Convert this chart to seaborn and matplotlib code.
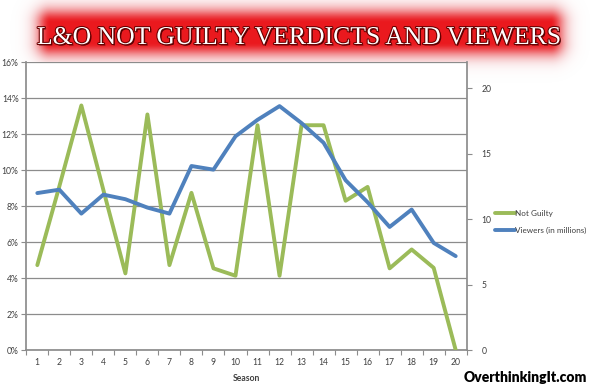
import numpy as np
import pandas as pd
import matplotlib
matplotlib.use("Agg")
import matplotlib.pyplot as plt
import matplotlib.patheffects as pe
import seaborn as sns
from matplotlib.ticker import FixedLocator, PercentFormatter

seasons = list(range(1, 21))
not_guilty = [4.72, 9.1, 13.6, 8.9, 4.26, 13.1, 4.72, 8.74, 4.54, 4.13,
              12.5, 4.13, 12.5, 12.5, 8.3, 9.07, 4.54, 5.59, 4.57, 0.0]
viewers = [12.0, 12.26, 10.43, 11.88, 11.53, 10.89, 10.43, 14.07, 13.79, 16.34,
           17.6, 18.65, 17.35, 15.85, 12.98, 11.3, 9.41, 10.74, 8.19, 7.18]
left_ticks = [0, 2, 4, 6, 8, 10, 12, 14, 16]
right_ticks = [0, 5, 10, 15, 20]
title = "L&O NOT GUILTY VERDICTS AND VIEWERS"

df = pd.DataFrame({"Season": seasons, "Not Guilty": not_guilty,
                   "Viewers (in millions)": viewers})

sns.set_theme(style="white")
plt.rcParams['font.family'] = ['Lato', 'DejaVu Sans']

W, H = 590, 390
fig = plt.figure(figsize=(W / 100, H / 100), dpi=100)
fig.patch.set_facecolor("white")

# glowing red banner behind the title
bg = fig.add_axes([0, 0, 1, 1], zorder=-5)
yy, xx = np.mgrid[0:H, 0:W]
x0, x1, y0, y1 = 50, 550, 22, 42
dx = np.maximum(np.maximum(x0 - xx, xx - x1), 0)
dy = np.maximum(np.maximum(y0 - yy, yy - y1), 0)
d = np.sqrt(dx ** 2 + dy ** 2)
alpha = np.exp(-(d / 17.0) ** 2)
img = np.zeros((H, W, 4))
img[..., 0] = 0.92
img[..., 1] = 0.10 + 0.55 * (1 - alpha)
img[..., 2] = 0.12 + 0.55 * (1 - alpha)
img[..., 3] = alpha
bg.imshow(img, extent=[0, W, H, 0], aspect="auto", interpolation="bilinear")
bg.set_xlim(0, W)
bg.set_ylim(H, 0)
bg.axis("off")

ax = fig.add_axes([26.3 / W, 1 - 350 / H, (466.7 - 26.3) / W, (350 - 62.3) / H])
ax2 = ax.twinx()

green = "#9BBB59"
blue = "#4F81BD"
sns.lineplot(data=df, x="Season", y="Not Guilty", ax=ax, color=green, lw=2.8,
             label="Not Guilty", legend=False, zorder=3)
sns.lineplot(data=df, x="Season", y="Viewers (in millions)", ax=ax2, color=blue,
             lw=2.8, label="Viewers (in millions)", legend=False, zorder=3)

ax.set_xlim(0.5, 20.5)
ax.set_ylim(0, 16)
ax2.set_ylim(0, 22)

ax.set_yticks(left_ticks)
ax.yaxis.set_major_formatter(PercentFormatter(decimals=0))
ax2.set_yticks(right_ticks)
ax.set_xticks(seasons)
ax.xaxis.set_minor_locator(FixedLocator(np.arange(0.5, 21, 1)))

ax.grid(axis="y", color="#8c8c8c", lw=0.9)
ax.set_axisbelow(True)
for a in (ax, ax2):
    for s in a.spines.values():
        s.set_visible(False)
ax.spines["left"].set_visible(True)
ax.spines["left"].set_color("#8c8c8c")
ax.spines["bottom"].set_visible(True)
ax.spines["bottom"].set_color("#8c8c8c")
ax2.spines["right"].set_visible(True)
ax2.spines["right"].set_color("#8c8c8c")

tc = "#404040"
fs = 6.2
ax.tick_params(axis="y", which="major", left=True, length=3.5, width=0.8, color="#8c8c8c",
               labelsize=fs, labelcolor=tc, pad=2)
ax.tick_params(axis="x", which="major", bottom=False, length=0, labelsize=fs,
               labelcolor=tc, pad=6)
ax.tick_params(axis="x", which="minor", bottom=True, length=3.5, width=0.8, color="#8c8c8c")
ax2.tick_params(axis="y", right=True, length=3.5, width=0.8, color="#8c8c8c",
                labelsize=fs, labelcolor=tc, pad=7)
ax.set_xlabel("Season", fontsize=fs, fontweight="bold", color=tc, labelpad=5)
ax.set_ylabel("")
ax2.set_ylabel("")

h1, l1 = ax.get_legend_handles_labels()
h2, l2 = ax2.get_legend_handles_labels()
fig.legend(h1 + h2, l1 + l2, loc="center left", bbox_to_anchor=(492 / W, 1 - 222 / H),
           frameon=False, fontsize=5.9, handlelength=2.4, handletextpad=0.0,
           labelspacing=1.3, labelcolor=tc, borderaxespad=0)

fig.text(0.508, 1 - 38 / H, title, ha="center", va="center", color="white",
         family="Liberation Serif", fontsize=18.5,
         path_effects=[pe.withSimplePatchShadow(offset=(1, -1), shadow_rgbFace="#3a0000", alpha=0.9),
                       pe.withStroke(linewidth=1.5, foreground="#6a0000")])

fig.text(0.995, 1 - 377 / H, "OverthinkingIt.com", ha="right", va="center",
         color="black", family="Lato", fontweight="heavy", fontsize=10)

fig.savefig("out.png", dpi=100)
